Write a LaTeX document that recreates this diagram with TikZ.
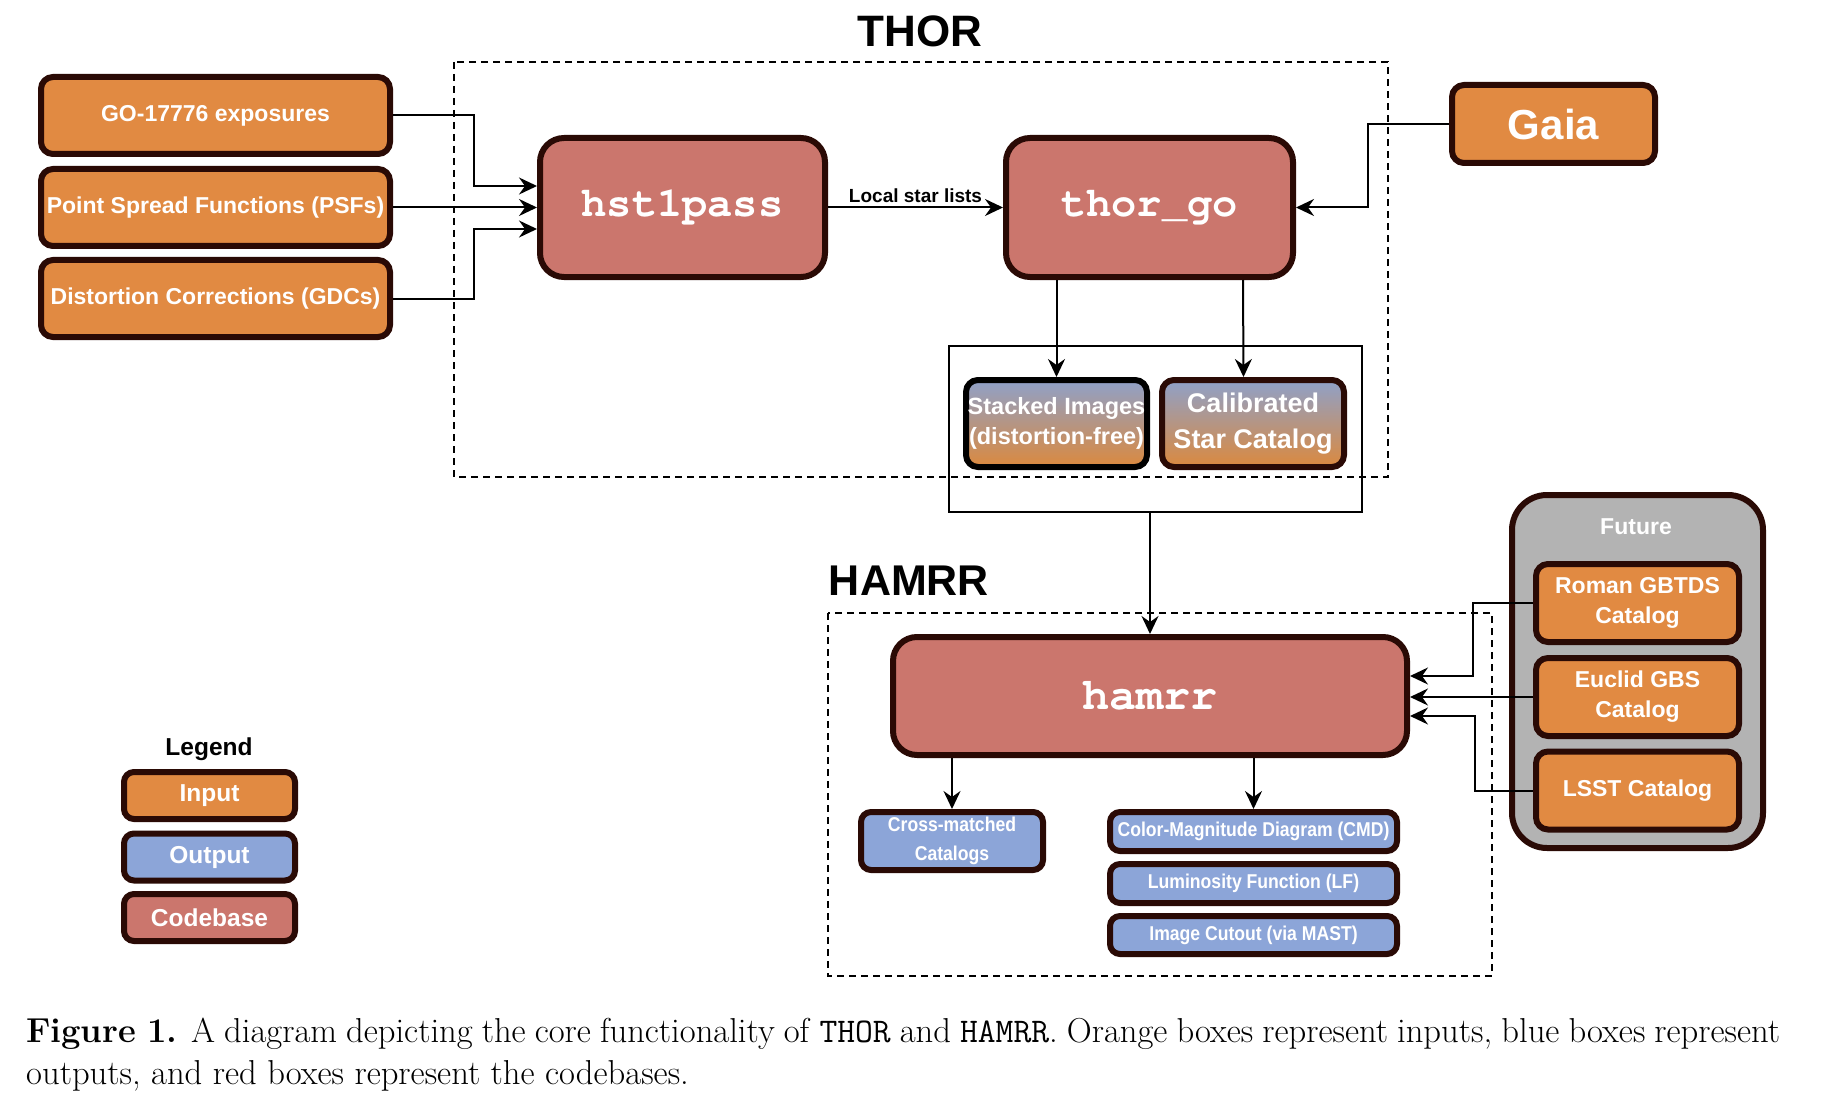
\documentclass[tikz,border=0pt]{standalone}
\usepackage{fontspec}
\usetikzlibrary{arrows.meta,calc}
\newfontfamily\sansf{Liberation Sans}
\newfontfamily\sansc{Liberation Sans}[FakeStretch=0.88]
\newfontfamily\monof{TeX Gyre Cursor}
\definecolor{inorange}{RGB}{225,138,66}
\definecolor{codered}{RGB}{203,118,109}
\definecolor{outblue}{RGB}{140,165,216}
\definecolor{bdr}{RGB}{42,10,5}
\definecolor{futgray}{RGB}{179,179,179}
\definecolor{gradtop}{RGB}{143,161,201}
\definecolor{gradbot}{RGB}{219,137,62}
\newcommand{\sz}[2]{\fontsize{#1}{#2}\selectfont}
\tikzset{
  box/.style={draw=bdr, line width=6pt, text=white, inner sep=0pt, align=center},
  inbox/.style={box, fill=inorange, rounded corners=12pt, font=\sansf\bfseries\sz{23}{30}},
  codebox/.style={box, fill=codered, rounded corners=24pt, font=\monof\bfseries\sz{42}{48}},
  outbox/.style={box, fill=outblue, rounded corners=10pt, font=\sansc\bfseries\sz{20}{29}},
  gradbox/.style={box, top color=gradtop, bottom color=gradbot, rounded corners=12pt},
  legbox/.style={box, rounded corners=10pt, minimum width=171pt, minimum height=47pt, font=\sansf\bfseries\sz{24.5}{30}},
  conn/.style={line width=2pt, -{Stealth[length=18pt,width=17pt,inset=6pt]}},
  dashbox/.style={draw, line width=2pt, dash pattern=on 7pt off 5pt},
  title/.style={font=\sansf\bfseries\sz{44}{50}, inner sep=0pt}
}
\begin{document}
\begin{tikzpicture}[x=1pt,y=-1pt]
\useasboundingbox (0,0) rectangle (1821,1110);

% titles and dashed groups
\node[title] (thort) at (920,31) {THOR};
\node[title, font=\sansf\bfseries\sz{43}{50}] (hamrrt) at (909,581) {HAMRR};
\draw[dashbox] (454,62) rectangle (1388,477);
\draw[dashbox] (828,613) rectangle (1492,976);

% inputs
\node[inbox, minimum width=349pt, minimum height=77pt] (go) at (215.5,115.5) {GO-17776 exposures};
\node[inbox, minimum width=349pt, minimum height=77pt] (psf) at (215.5,207.5) {Point Spread Functions (PSFs)};
\node[inbox, minimum width=349pt, minimum height=77pt] (dis) at (215.5,298.5) {Distortion Corrections (GDCs)};
\node[inbox, minimum width=203pt, minimum height=78pt, font=\sansf\bfseries\sz{42}{48}] (gaia) at (1553.5,124) {Gaia};

% codebases
\node[codebox, minimum width=285pt, minimum height=139pt] (hp) at (682.5,207.5) {hst1pass};
\node[codebox, minimum width=287pt, minimum height=139pt] (tg) at (1149.5,207.5) {thor\_go};
\node[codebox, minimum width=514pt, minimum height=118pt, font=\monof\bfseries\sz{45}{50}] (hm) at (1150,696) {hamrr};

% THOR outputs
\node[draw, line width=2pt, minimum width=413pt, minimum height=166pt, inner sep=0pt] (og) at (1155.5,429) {};
\node[gradbox, draw=black, minimum width=181pt, minimum height=87pt, font=\sansf\bfseries\sz{23.5}{30}] (st) at (1056.5,423.5) {Stacked Images\\(distortion-free)};
\node[gradbox, minimum width=182pt, minimum height=87pt, font=\sansf\bfseries\sz{27}{36}] (cal) at (1253,423.5) {Calibrated\\Star Catalog};

% HAMRR outputs
\node[outbox, minimum width=182pt, minimum height=58pt] (cr) at (952,841) {Cross-matched\\Catalogs};
\node[outbox, minimum width=287pt, minimum height=39pt] (cmd) at (1253.5,831.5) {Color-Magnitude Diagram (CMD)};
\node[outbox, minimum width=287pt, minimum height=39pt] (lf) at (1253.5,883.5) {Luminosity Function (LF)};
\node[outbox, minimum width=287pt, minimum height=38pt] (cut) at (1253.5,935) {Image Cutout (via MAST)};

% future
\node[box, fill=futgray, rounded corners=35pt, minimum width=251pt, minimum height=353pt] (fut) at (1637.5,671.5) {};
\node[font=\sansf\bfseries\sz{23}{30}, text=white, inner sep=0pt] (futt) at (1636,527) {Future};
\node[inbox, minimum width=203pt, minimum height=78pt] (rom) at (1637.5,603) {Roman GBTDS\\Catalog};
\node[inbox, minimum width=203pt, minimum height=78pt] (euc) at (1637.5,697) {Euclid GBS\\Catalog};
\node[inbox, minimum width=203pt, minimum height=78pt] (lsst) at (1637.5,790.5) {LSST Catalog};

% legend
\node[font=\sansf\bfseries\sz{24.5}{30}, inner sep=0pt] (legt) at (209,749) {Legend};
\node[legbox, fill=inorange] (lin) at (209.5,795.5) {Input};
\node[legbox, fill=outblue] (lout) at (209.5,857) {Output};
\node[legbox, fill=codered] (lcode) at (209.5,917.5) {Codebase};

% connectors
\draw[conn] (go.east) -- ++(81,0) |- ($(hp.west)+(0,-21.5)$);
\draw[conn] (psf.east) -- (psf.east -| hp.west);
\draw[conn] (dis.east) -- ++(81,0) |- ($(hp.west)+(0,21.5)$);
\draw[conn] (hp.east) -- node[above, inner sep=4pt, font=\sansf\bfseries\sz{19}{22}] (lsl) {Local star lists} (tg.west);
\draw[conn] (gaia.west) -- ++(-81,0) |- (tg.east);
\draw[conn] (tg.south -| st.north) -- (st.north);
\draw[conn] ($(tg.south)+(93.5,0)$) -- ($(cal.north)+(-9.5,0)$);
\draw[conn] (og.south -| hm.north) -- (hm.north);
\draw[conn] (hm.south -| cr.north) -- (cr.north);
\draw[conn] (hm.south -| cmd.north) -- (cmd.north);
\draw[conn] (rom.west) -- ++(-60,0) |- ($(hm.east)+(0,-20)$);
\draw[conn] (euc.west) -- (euc.west -| hm.east);
\draw[conn] (lsst.west) -- ++(-58,0) |- ($(hm.east)+(0,20)$);

% caption
\node[anchor=north west, text width=1754pt, align=justify, inner sep=0pt, font=\sz{34.6}{42}] (cap) at (26,1018)
{\textbf{Figure 1.} A diagram depicting the core functionality of \texttt{THOR} and \texttt{HAMRR}. Orange boxes represent inputs, blue boxes represent\linebreak outputs, and red boxes represent the codebases.};
\end{tikzpicture}
\end{document}
